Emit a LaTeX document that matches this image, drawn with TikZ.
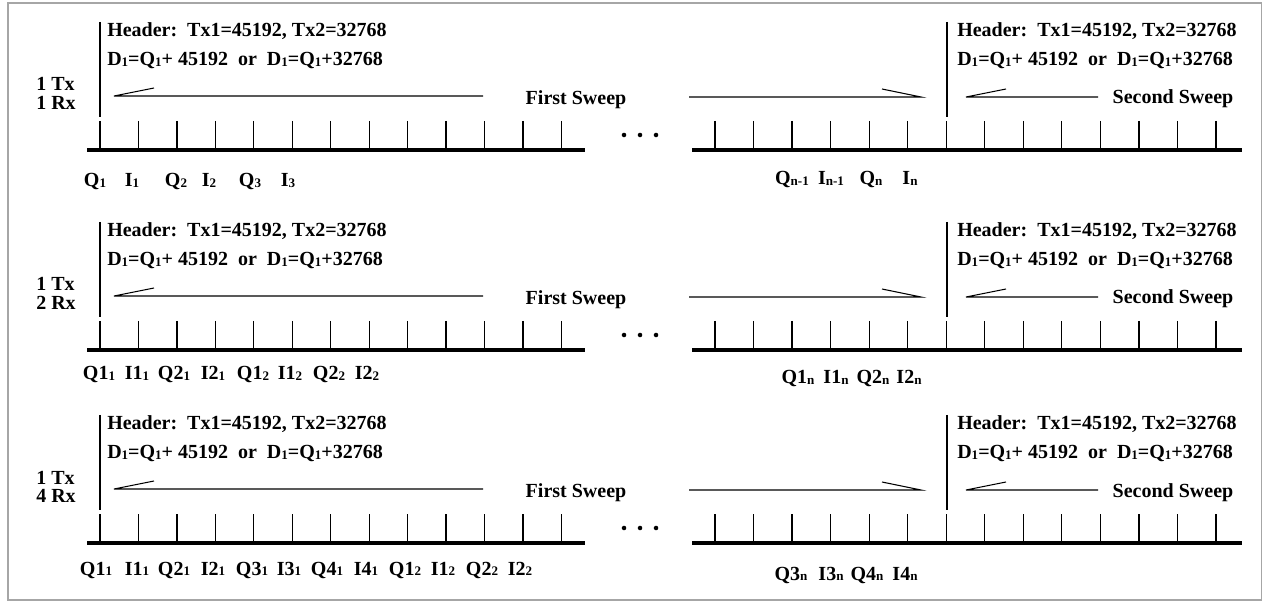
\documentclass[tikz,border=0pt]{standalone}
\usepackage{fontspec}
\setmainfont{Liberation Serif}
\newcommand\sbs[1]{\raisebox{-0.6pt}{\fontsize{9.8}{9.8}\selectfont #1}}
\tikzset{
  txt/.style={inner sep=0pt, font=\fontsize{15}{17}\selectfont\bfseries, text=black},
  thinln/.style={line width=0.8pt, draw=black},
  tickln/.style={line width=0.9pt, draw=black},
  ruler/.style={line width=3.2pt, draw=black},
  vline/.style={line width=1pt, draw=black},
  framebox/.style={draw=black!35, line width=1.1pt}
}
\newcommand\sweeprow[4]{%
\begin{scope}[shift={(0,#2)}]
  % left header block
  \coordinate (#1vLt) at (100,22); \coordinate (#1vLb) at (100,117);
  \draw[vline] (#1vLt) -- (#1vLb);
  \node[txt, anchor=base west] (#1hL1) at (107,37) {Header:\ \ Tx1=45192, Tx2=32768};
  \node[txt, anchor=base west] (#1hL2) at (107,66) {D\sbs{1}=Q\sbs{1}+ 45192\ \ or\ \ D\sbs{1}=Q\sbs{1}+32768};
  \node[txt, anchor=base west] (#1tx) at (36,91) {#3};
  \node[txt, anchor=base west] (#1rx) at (36,110) {#4};
  % first sweep arrow (pointing left)
  \coordinate (#1a0) at (114,96); \coordinate (#1a1) at (483,96); \coordinate (#1ab) at (154,88);
  \draw[thinln] (#1a1) -- (#1a0) -- (#1ab);
  \node[txt, anchor=base] (#1fs) at (576,105) {First Sweep};
  % right arrow toward second header
  \coordinate (#1b0) at (689,97); \coordinate (#1b1) at (921,97); \coordinate (#1bb) at (882,89);
  \draw[thinln] (#1b0) -- (#1b1) -- (#1bb);
  % right header block
  \coordinate (#1vRt) at (947,22); \coordinate (#1vRb) at (947,117);
  \draw[vline] (#1vRt) -- (#1vRb);
  \node[txt, anchor=base west] (#1hR1) at (957,37) {Header:\ \ Tx1=45192, Tx2=32768};
  \node[txt, anchor=base west] (#1hR2) at (957,66) {D\sbs{1}=Q\sbs{1}+ 45192\ \ or\ \ D\sbs{1}=Q\sbs{1}+32768};
  % second sweep arrow (pointing left)
  \coordinate (#1c0) at (966,97); \coordinate (#1c1) at (1098,97); \coordinate (#1cb) at (1006,89);
  \draw[thinln] (#1c1) -- (#1c0) -- (#1cb);
  \node[txt, anchor=base] (#1ss) at (1173,104) {Second Sweep};
  % rulers
  \coordinate (#1rL0) at (87,150); \coordinate (#1rL1) at (585,150);
  \coordinate (#1rR0) at (692,150); \coordinate (#1rR1) at (1242,150);
  \foreach \k in {0,...,12} {\draw[tickln] ({100+38.45*\k},121) -- ({100+38.45*\k},150);}
  \foreach \k in {0,...,13} {\draw[tickln] ({715+38.54*\k},121) -- ({715+38.54*\k},150);}
  \draw[ruler] (#1rL0) -- (#1rL1);
  \draw[ruler] (#1rR0) -- (#1rR1);
  % dots
  \foreach \x in {624,640,656} {\fill (\x,135) circle (1.7pt);}
\end{scope}}

\begin{document}
\begin{tikzpicture}[x=0.75pt,y=-0.75pt]
\useasboundingbox (0,0) rectangle (1263,605);
\draw[framebox] (8,3) rectangle (1261.5,600);

\sweeprow{r1}{0}{1 Tx}{1 Rx}
\sweeprow{r2}{200}{1 Tx}{2 Rx}
\sweeprow{r3}{393}{1 Tx}{4 Rx}

% row 1 labels
\foreach \x/\t [count=\i] in {95/Q\sbs{1}, 132/I\sbs{1}, 176/Q\sbs{2}, 209/I\sbs{2}, 250/Q\sbs{3}, 288/I\sbs{3}}
  {\node[txt, anchor=base] (r1l\i) at (\x,187) {\t};}
\foreach \x/\t [count=\i] in {792/Q\sbs{n-1}, 831/I\sbs{n-1}, 871/Q\sbs{n}, 910/I\sbs{n}}
  {\node[txt, anchor=base] (r1m\i) at (\x,185) {\t};}

% row 2 labels
\foreach \x/\t [count=\i] in {99/Q1\sbs{1}, 137/I1\sbs{1}, 174/Q2\sbs{1}, 213/I2\sbs{1}, 253/Q1\sbs{2}, 290/I1\sbs{2}, 329/Q2\sbs{2}, 367/I2\sbs{2}}
  {\node[txt, anchor=base] (r2l\i) at (\x,380) {\t};}
\foreach \x/\t [count=\i] in {798/Q1\sbs{n}, 836/I1\sbs{n}, 873/Q2\sbs{n}, 909/I2\sbs{n}}
  {\node[txt, anchor=base] (r2m\i) at (\x,384) {\t};}

% row 3 labels
\foreach \x/\t [count=\i] in {96/Q1\sbs{1}, 137/I1\sbs{1}, 174/Q2\sbs{1}, 213/I2\sbs{1}, 252/Q3\sbs{1}, 289/I3\sbs{1}, 327/Q4\sbs{1}, 366/I4\sbs{1}, 405/Q1\sbs{2}, 443/I1\sbs{2}, 482/Q2\sbs{2}, 520/I2\sbs{2}}
  {\node[txt, anchor=base] (r3l\i) at (\x,575) {\t};}
\foreach \x/\t [count=\i] in {791/Q3\sbs{n}, 831/I3\sbs{n}, 867/Q4\sbs{n}, 905/I4\sbs{n}}
  {\node[txt, anchor=base] (r3m\i) at (\x,580) {\t};}
\end{tikzpicture}
\end{document}
